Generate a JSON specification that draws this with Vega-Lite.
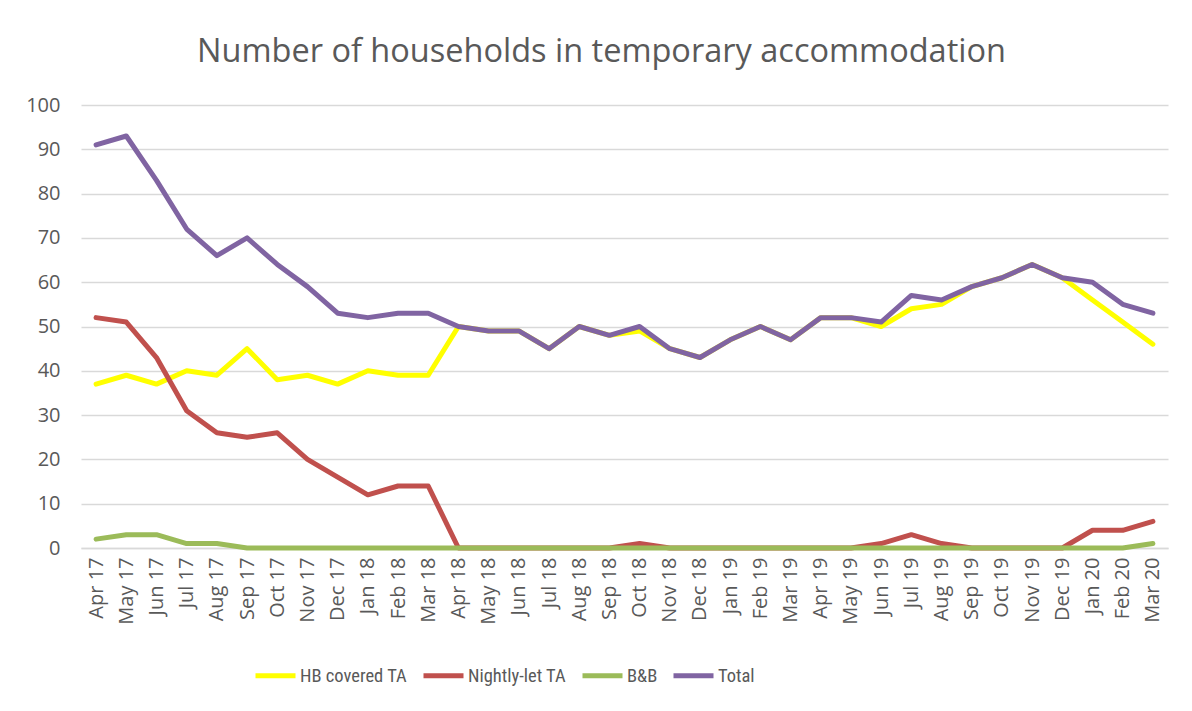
{
  "$schema": "https://vega.github.io/schema/vega-lite/v6.json",
  "width": 1087,
  "height": 443,
  "autosize": {"type": "none"},
  "padding": {"left": 81, "top": 105, "right": 24, "bottom": 163},
  "background": "white",
  "title": {
    "text": "Number of households in temporary accommodation",
    "font": "Open Sans",
    "fontSize": 32.5,
    "fontWeight": "normal",
    "color": "#595959",
    "anchor": "middle",
    "frame": "group",
    "dx": -23,
    "offset": 27
  },
  "data": {
    "values": [
      {"month": "Apr 17", "HB covered TA": 37, "Nightly-let TA": 52, "B&B": 2, "Total": 91},
      {"month": "May 17", "HB covered TA": 39, "Nightly-let TA": 51, "B&B": 3, "Total": 93},
      {"month": "Jun 17", "HB covered TA": 37, "Nightly-let TA": 43, "B&B": 3, "Total": 83},
      {"month": "Jul 17", "HB covered TA": 40, "Nightly-let TA": 31, "B&B": 1, "Total": 72},
      {"month": "Aug 17", "HB covered TA": 39, "Nightly-let TA": 26, "B&B": 1, "Total": 66},
      {"month": "Sep 17", "HB covered TA": 45, "Nightly-let TA": 25, "B&B": 0, "Total": 70},
      {"month": "Oct 17", "HB covered TA": 38, "Nightly-let TA": 26, "B&B": 0, "Total": 64},
      {"month": "Nov 17", "HB covered TA": 39, "Nightly-let TA": 20, "B&B": 0, "Total": 59},
      {"month": "Dec 17", "HB covered TA": 37, "Nightly-let TA": 16, "B&B": 0, "Total": 53},
      {"month": "Jan 18", "HB covered TA": 40, "Nightly-let TA": 12, "B&B": 0, "Total": 52},
      {"month": "Feb 18", "HB covered TA": 39, "Nightly-let TA": 14, "B&B": 0, "Total": 53},
      {"month": "Mar 18", "HB covered TA": 39, "Nightly-let TA": 14, "B&B": 0, "Total": 53},
      {"month": "Apr 18", "HB covered TA": 50, "Nightly-let TA": 0, "B&B": 0, "Total": 50},
      {"month": "May 18", "HB covered TA": 49, "Nightly-let TA": 0, "B&B": 0, "Total": 49},
      {"month": "Jun 18", "HB covered TA": 49, "Nightly-let TA": 0, "B&B": 0, "Total": 49},
      {"month": "Jul 18", "HB covered TA": 45, "Nightly-let TA": 0, "B&B": 0, "Total": 45},
      {"month": "Aug 18", "HB covered TA": 50, "Nightly-let TA": 0, "B&B": 0, "Total": 50},
      {"month": "Sep 18", "HB covered TA": 48, "Nightly-let TA": 0, "B&B": 0, "Total": 48},
      {"month": "Oct 18", "HB covered TA": 49, "Nightly-let TA": 1, "B&B": 0, "Total": 50},
      {"month": "Nov 18", "HB covered TA": 45, "Nightly-let TA": 0, "B&B": 0, "Total": 45},
      {"month": "Dec 18", "HB covered TA": 43, "Nightly-let TA": 0, "B&B": 0, "Total": 43},
      {"month": "Jan 19", "HB covered TA": 47, "Nightly-let TA": 0, "B&B": 0, "Total": 47},
      {"month": "Feb 19", "HB covered TA": 50, "Nightly-let TA": 0, "B&B": 0, "Total": 50},
      {"month": "Mar 19", "HB covered TA": 47, "Nightly-let TA": 0, "B&B": 0, "Total": 47},
      {"month": "Apr 19", "HB covered TA": 52, "Nightly-let TA": 0, "B&B": 0, "Total": 52},
      {"month": "May 19", "HB covered TA": 52, "Nightly-let TA": 0, "B&B": 0, "Total": 52},
      {"month": "Jun 19", "HB covered TA": 50, "Nightly-let TA": 1, "B&B": 0, "Total": 51},
      {"month": "Jul 19", "HB covered TA": 54, "Nightly-let TA": 3, "B&B": 0, "Total": 57},
      {"month": "Aug 19", "HB covered TA": 55, "Nightly-let TA": 1, "B&B": 0, "Total": 56},
      {"month": "Sep 19", "HB covered TA": 59, "Nightly-let TA": 0, "B&B": 0, "Total": 59},
      {"month": "Oct 19", "HB covered TA": 61, "Nightly-let TA": 0, "B&B": 0, "Total": 61},
      {"month": "Nov 19", "HB covered TA": 64, "Nightly-let TA": 0, "B&B": 0, "Total": 64},
      {"month": "Dec 19", "HB covered TA": 61, "Nightly-let TA": 0, "B&B": 0, "Total": 61},
      {"month": "Jan 20", "HB covered TA": 56, "Nightly-let TA": 4, "B&B": 0, "Total": 60},
      {"month": "Feb 20", "HB covered TA": 51, "Nightly-let TA": 4, "B&B": 0, "Total": 55},
      {"month": "Mar 20", "HB covered TA": 46, "Nightly-let TA": 6, "B&B": 1, "Total": 53}
    ]
  },
  "transform": [
    {"fold": ["HB covered TA", "Nightly-let TA", "B&B", "Total"], "as": ["series", "value"]}
  ],
  "mark": {"type": "line", "strokeWidth": 5, "strokeCap": "round", "strokeJoin": "round"},
  "encoding": {
    "x": {
      "field": "month",
      "type": "ordinal",
      "sort": null,
      "scale": {"type": "point", "padding": 0.5},
      "axis": {
        "title": null,
        "labelAngle": 270,
        "labelFont": "Open Sans",
        "labelFontSize": 20,
        "labelColor": "#595959",
        "labelPadding": 9,
        "ticks": false,
        "domain": true,
        "domainColor": "#D9D9D9",
        "domainWidth": 1.5,
        "grid": false
      }
    },
    "y": {
      "field": "value",
      "type": "quantitative",
      "scale": {"domain": [0, 100], "nice": false},
      "axis": {
        "title": null,
        "values": [0, 10, 20, 30, 40, 50, 60, 70, 80, 90, 100],
        "labelFont": "Open Sans",
        "labelFontSize": 20,
        "labelColor": "#595959",
        "labelPadding": 21,
        "ticks": false,
        "domain": false,
        "grid": true,
        "gridColor": "#D9D9D9",
        "gridWidth": 1.5
      }
    },
    "color": {
      "field": "series",
      "type": "nominal",
      "sort": null,
      "scale": {
        "domain": ["HB covered TA", "Nightly-let TA", "B&B", "Total"],
        "range": ["#FFFF00", "#C0504D", "#9BBB59", "#8064A2"]
      },
      "legend": {
        "title": null,
        "orient": "none",
        "direction": "horizontal",
        "legendX": 172,
        "legendY": 548,
        "padding": 0,
        "symbolType": "stroke",
        "symbolSize": 1600,
        "symbolStrokeWidth": 5,
        "labelFont": "Roboto Condensed, Roboto",
        "labelFontSize": 18.5,
        "labelColor": "#595959",
        "labelOffset": 2,
        "columnPadding": 5
      }
    }
  },
  "config": {"view": {"stroke": null}}
}
